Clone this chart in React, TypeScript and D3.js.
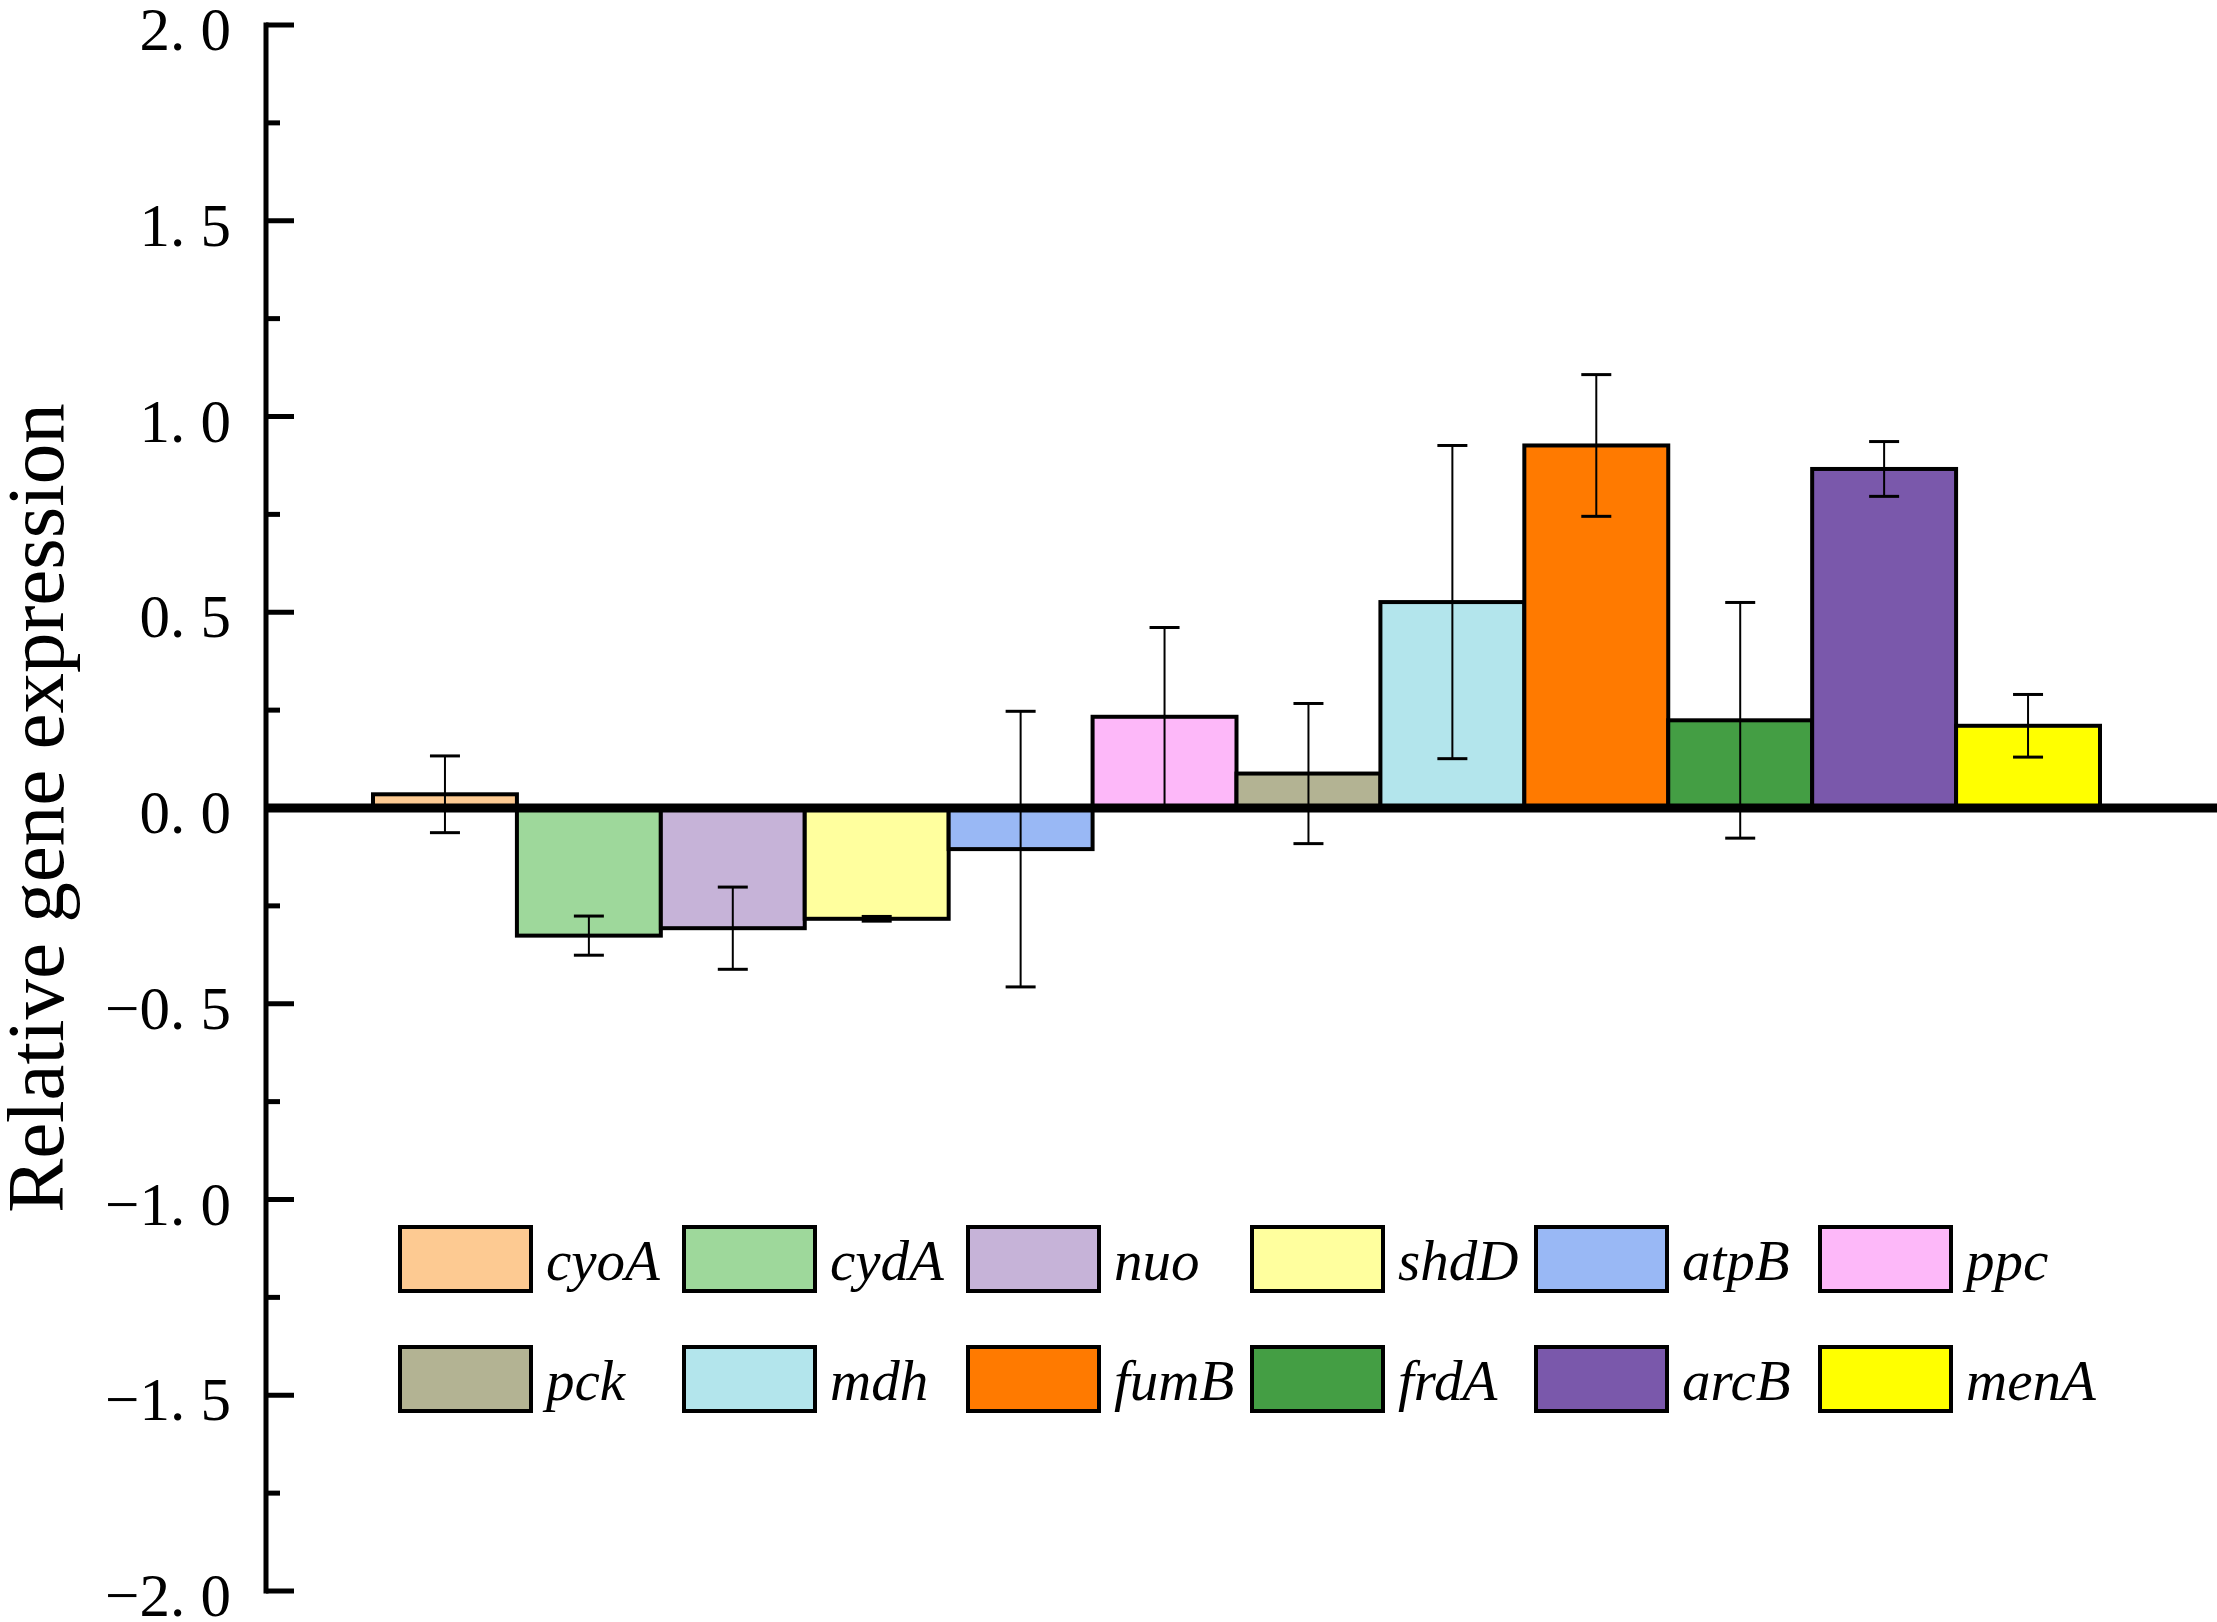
import { useRef, useEffect } from 'react';
import * as d3 from 'd3';

// gene names, mean relative expression and error
const genes: string[] = ['cyoA', 'cydA', 'nuo', 'shdD', 'atpB', 'ppc', 'pck', 'mdh', 'fumB', 'frdA', 'arcB', 'menA'];
const values: number[] = [0.035, -0.326, -0.307, -0.283, -0.105, 0.233, 0.088, 0.526, 0.926, 0.224, 0.866, 0.21];
const errors: number[] = [0.098, 0.05, 0.105, 0.006, 0.352, 0.228, 0.179, 0.4, 0.181, 0.301, 0.07, 0.08];
const colors: string[] = ['#FDCA92', '#9ED89B', '#C6B3D8', '#FFFF9E', '#99B8F5', '#FDB8F9', '#B3B393', '#B3E5EC', '#FF7A00', '#449E44', '#7A58AB', '#FFFF00'];
const yTicks: number[] = [-2, -1.5, -1, -0.5, 0, 0.5, 1, 1.5, 2];
const yTitle = 'Relative gene expression';

export default function App() {
  const chartRef = useRef<SVGSVGElement | null>(null);

  useEffect(() => {
    if (!chartRef.current) return;

    const svgWidth = 2217;
    const svgHeight = 1622;
    const axisX = 266;

    const svg = d3.select(chartRef.current)
      .attr('width', svgWidth)
      .attr('height', svgHeight);
    svg.selectAll('*').remove();

    const x = d3.scaleBand<string>()
      .domain(genes)
      .range([373, 2100])
      .padding(0);

    const y = d3.scaleLinear()
      .domain([-2, 2])
      .range([1591, 25]);

    const fmt = d3.format('.1f');

    // y axis line
    svg.append('line')
      .attr('x1', axisX).attr('x2', axisX)
      .attr('y1', y(2) - 2.5).attr('y2', y(-2) + 2.5)
      .attr('stroke', '#000').attr('stroke-width', 5);

    // major ticks
    svg.selectAll('line.major')
      .data(yTicks)
      .enter()
      .append('line')
      .attr('class', 'major')
      .attr('x1', axisX).attr('x2', axisX + 28)
      .attr('y1', (d) => y(d)).attr('y2', (d) => y(d))
      .attr('stroke', '#000').attr('stroke-width', 5);

    // minor ticks
    const minor = d3.range(-1.75, 2, 0.5);
    svg.selectAll('line.minor')
      .data(minor)
      .enter()
      .append('line')
      .attr('class', 'minor')
      .attr('x1', axisX).attr('x2', axisX + 14)
      .attr('y1', (d) => y(d)).attr('y2', (d) => y(d))
      .attr('stroke', '#000').attr('stroke-width', 5);

    // tick labels
    svg.selectAll('text.tick')
      .data(yTicks)
      .enter()
      .append('text')
      .attr('class', 'tick')
      .text((d) => fmt(d).replace('.', '. '))
      .attr('x', 231)
      .attr('y', (d) => y(d) + 25)
      .attr('text-anchor', 'end')
      .attr('font-family', '"Liberation Serif", serif')
      .attr('font-size', '61px')
      .attr('fill', '#000')
      .style('white-space', 'pre');

    // axis title
    svg.append('text')
      .text(yTitle)
      .attr('transform', `translate(63,${y(0)}) rotate(-90)`)
      .attr('text-anchor', 'middle')
      .attr('font-family', '"Liberation Serif", serif')
      .attr('font-size', '81px')
      .attr('fill', '#000');

    // bars
    svg.selectAll('rect.bar')
      .data(values)
      .enter()
      .append('rect')
      .attr('class', 'bar')
      .attr('x', (_d, i) => x(genes[i]) || 0)
      .attr('y', (d) => y(Math.max(0, d)))
      .attr('width', x.bandwidth())
      .attr('height', (d) => Math.abs(y(d) - y(0)))
      .attr('fill', (_d, i) => colors[i])
      .attr('stroke', '#000')
      .attr('stroke-width', 4);

    // error bars
    const eb = svg.selectAll('g.err')
      .data(values)
      .enter()
      .append('g')
      .attr('class', 'err');
    const cx = (i: number) => (x(genes[i]) || 0) + x.bandwidth() / 2;
    eb.append('line')
      .attr('x1', (_d, i) => cx(i)).attr('x2', (_d, i) => cx(i))
      .attr('y1', (d, i) => y(d + errors[i])).attr('y2', (d, i) => y(d - errors[i]))
      .attr('stroke', '#000').attr('stroke-width', 2);
    eb.append('line')
      .attr('x1', (_d, i) => cx(i) - 15).attr('x2', (_d, i) => cx(i) + 15)
      .attr('y1', (d, i) => y(d + errors[i])).attr('y2', (d, i) => y(d + errors[i]))
      .attr('stroke', '#000').attr('stroke-width', 3);
    eb.append('line')
      .attr('x1', (_d, i) => cx(i) - 15).attr('x2', (_d, i) => cx(i) + 15)
      .attr('y1', (d, i) => y(d - errors[i])).attr('y2', (d, i) => y(d - errors[i]))
      .attr('stroke', '#000').attr('stroke-width', 3);

    // zero line
    svg.append('line')
      .attr('x1', axisX).attr('x2', svgWidth)
      .attr('y1', y(0)).attr('y2', y(0))
      .attr('stroke', '#000').attr('stroke-width', 9);

    // legend: two rows of six
    const legend = svg.selectAll('g.legend')
      .data(genes)
      .enter()
      .append('g')
      .attr('class', 'legend')
      .attr('transform', (_d, i) => `translate(${400 + (i % 6) * 284},${1227 + Math.floor(i / 6) * 120})`);
    legend.append('rect')
      .attr('width', 131)
      .attr('height', 64)
      .attr('fill', (_d, i) => colors[i])
      .attr('stroke', '#000')
      .attr('stroke-width', 4);
    legend.append('text')
      .text((d) => d)
      .attr('x', 146)
      .attr('y', 53)
      .attr('font-family', '"Liberation Serif", serif')
      .attr('font-style', 'italic')
      .attr('font-size', '57px')
      .attr('fill', '#000');
  }, []);

  return (
    <div>
      <svg ref={chartRef} style={{ position: 'absolute', left: 0, top: 0, background: '#fff' }}></svg>
    </div>
  );
}
